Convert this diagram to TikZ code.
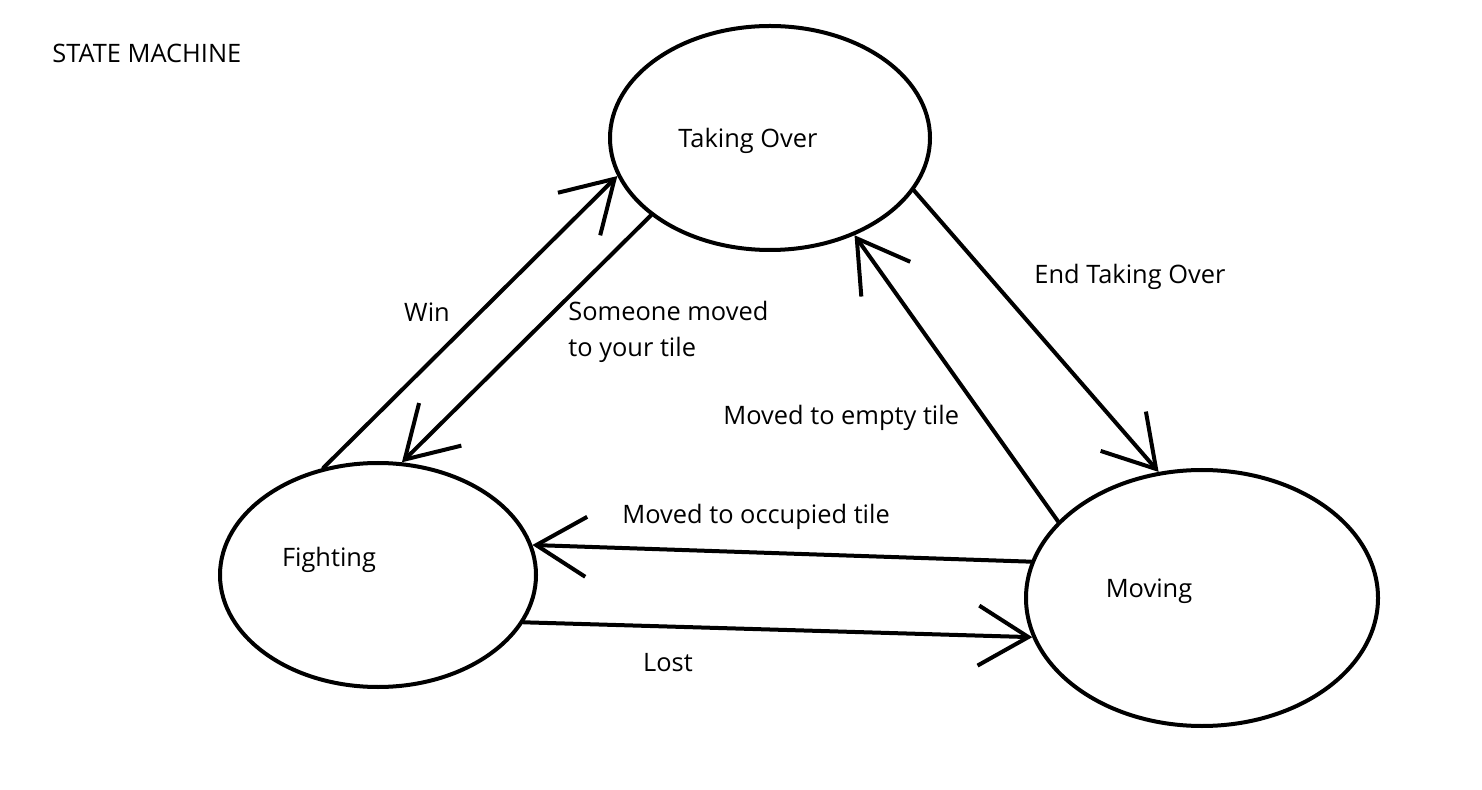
\documentclass[tikz,border=0pt]{standalone}
\usepackage{fontspec}
\setmainfont{Open Sans}
\usetikzlibrary{arrows.meta,shapes.geometric,positioning}
\tikzstyle{state} = [ellipse, draw=black, line width=2pt, inner sep=0pt]
\tikzstyle{arrow} = [line width=2pt, line cap=round, -{Straight Barb[length=25pt,width=30pt]}]
\tikzstyle{lbl} = [font=\fontsize{12.7}{18}\selectfont, inner sep=0pt, align=left]

\begin{document}
\begin{tikzpicture}[x=0.5pt,y=-0.5pt]
\fill[white] (0,0) rectangle (1482,790);
\node[lbl, anchor=west] (title) at (52,53) {STATE MACHINE};

% States
\node[state, minimum width=160pt, minimum height=112pt] (take) at (770,138) {};
\node[state, minimum width=158pt, minimum height=112pt] (fight) at (378,575) {};
\node[state, minimum width=176pt, minimum height=128pt] (move) at (1202,598) {};
\node[lbl] (takeT) at (748,141) {Taking Over};
\node[lbl] (fightT) at (329,560) {Fighting};
\node[lbl] (moveT) at (1149,591) {Moving};

% Transitions
\draw[arrow] (fight.117) -- (take.194);
\draw[arrow] (take.213) -- (fight.78);
\draw[arrow] (take.340) -- (move.109);
\draw[arrow] (move.152) -- (take.311);
\draw[arrow] (move.168) -- (fight.11);
\draw[arrow] (fight.342) -- (move.193);

% Labels on transitions
\node[lbl] (win) at (427,312) {Win};
\node[lbl, anchor=west] (someone) at (568,332) {Someone moved\\to your tile};
\node[lbl, anchor=west] (endtake) at (1034,277) {End Taking Over};
\node[lbl, anchor=west] (empty) at (723,418) {Moved to empty tile};
\node[lbl, anchor=west] (occupied) at (622,517) {Moved to occupied tile};
\node[lbl] (lost) at (668,663) {Lost};
\end{tikzpicture}
\end{document}
